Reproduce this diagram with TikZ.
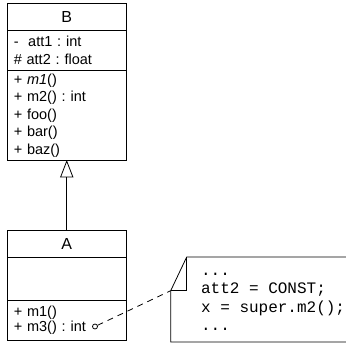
\documentclass[tikz,border=0pt]{standalone}
\usepackage{fontspec}
\setmainfont{Liberation Sans}
\setmonofont{Liberation Mono}
\usetikzlibrary{positioning,calc,arrows.meta}
\frenchspacing

\tikzset{
	cname/.style={draw, line width=0.8pt, minimum width=118.5pt, minimum height=26.5pt, inner sep=0pt, outer sep=0pt, font=\fontsize{16}{18}\selectfont},
	cpart/.style={draw, line width=0.8pt, text width=106pt, inner xsep=6.25pt, inner ysep=0pt, outer sep=0pt, align=left},
	notetext/.style={inner sep=0pt, align=left, font=\ttfamily\fontsize{16}{18.5}\selectfont},
}

\begin{document}
\begin{tikzpicture}[x=1pt, y=-1pt, line width=0.8pt]
			\useasboundingbox (0,0) rectangle (346,345);
			\clip (0,0) rectangle (346,345);
			\node[cname]                                      (bname) at (66.75,16.85) {B};
			\node[cpart, below=0pt of bname, minimum height=40.6pt, font=\fontsize{14.5}{18.3}\selectfont] (battr) {-~~att1 : int\\\# att2 : float};
			\node[cpart, below=0pt of battr, minimum height=89.3pt, font=\fontsize{14.5}{17.5}\selectfont] (bmeth) {+ \textit{m1}()\\+ m2() : int\\+ foo()\\+ bar()\\+ baz()};

			\node[cname]                                      (aname) at (66.75,244) {A};
			\node[cpart, below=0pt of aname, minimum height=43pt] (aattr) {};
			\node[cpart, below=0pt of aattr, minimum height=40.4pt, font=\fontsize{14.5}{15}\selectfont] (ameth) {+ m1()\\+ m3() : int};

			\node[notetext, anchor=base west] (note) at (200.7,330.5) {...\\att2 = CONST;\\x = super.m2();\\...};
			\coordinate (notetl) at (170.7,257);
			\coordinate (fold) at ($(notetl)+(0,33.7)$);
			\coordinate (flap) at ($(notetl)+(16,0)$);
			\draw (flap) -- ++(200,0) |- (170.7,342) -- (fold) -- cycle;
			\draw (flap) |- (fold);

			\node[circle, draw, inner sep=0pt, minimum size=5pt] (m3dot) at (95,326.5) {};

			\draw[-{Triangle[open, length=17.5pt, width=13.3pt]}] (aname) -- (bmeth);
			\draw[dash pattern=on 6pt off 5pt] (m3dot) -- (fold);
		\end{tikzpicture}
\end{document}
